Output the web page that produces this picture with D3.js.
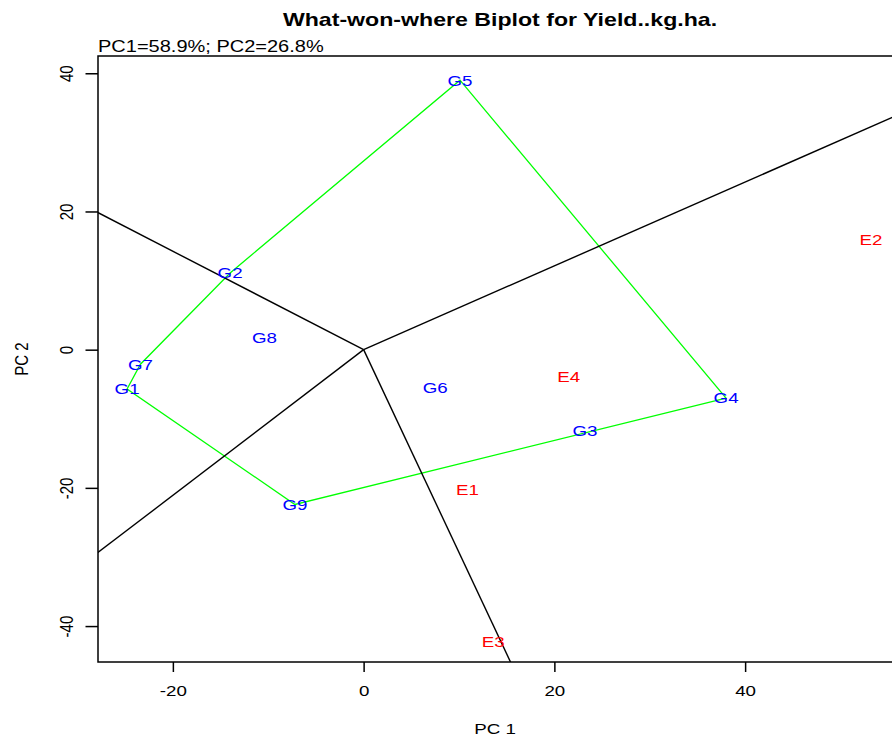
<!DOCTYPE html>
<html>
<head>
<meta charset="utf-8">
<script src="https://cdn.jsdelivr.net/npm/d3@7"></script>
<style>
  html, body { margin: 0; padding: 0; background: #fff; }
  svg { display: block; font-family: "Liberation Sans", Arial, sans-serif; }
</style>
</head>
<body>
<svg id="chart" width="892" height="737"></svg>
<script>
// ---------------- data ----------------
const genotypes = ["G1", "G2", "G3", "G4", "G5", "G6", "G7", "G8", "G9"];
const genoPC1   = [-24.8, -14.0, 23.2, 38.0, 10.1, 7.5, -23.4, -10.4, -7.2];
const genoPC2   = [-5.7, 11.1, -11.7, -7.0, 39.0, -5.5, -2.1, 1.7, -22.4];

const environments = ["E1", "E2", "E3", "E4"];
const envPC1       = [10.9, 53.2, 13.6, 21.5];
const envPC2       = [-20.2, 16.0, -42.3, -3.9];

const xTicks = [-20, 0, 20, 40];
const yTicks = [-40, -20, 0, 20, 40];

// hull sides for which a sector ray is drawn
const rayEdges = [["G5", "G4"], ["G4", "G9"], ["G9", "G1"], ["G7", "G2"]];

const titleText = "What-won-where Biplot for Yield..kg.ha.";
const subText = "PC1=58.9%; PC2=26.8%";
const xLabel = "PC 1";
const yLabel = "PC 2";

// ---------------- layout ----------------
const SX = 1.25; // horizontal glyph stretch of the reference
const pLeft = 98, pRight = 892, pTop = 56, pBottom = 662;
const svg = d3.select("#chart");

const x = d3.scaleLinear().domain([-27.85, 55.4]).range([pLeft, pRight]);
const y = d3.scaleLinear().domain([-45.2, 42.5]).range([pBottom, pTop]);

function sText(g, px, py, str, size, opts = {}) {
  const t = g.append("text")
    .attr("transform", `translate(${px},${py}) scale(${SX},1)` + (opts.rotate ? ` rotate(${opts.rotate})` : ""))
    .attr("text-anchor", opts.anchor || "middle")
    .attr("font-size", size)
    .attr("fill", opts.fill || "#000")
    .text(str);
  if (opts.bold) t.attr("font-weight", "bold");
  if (opts.dy) t.attr("dy", opts.dy);
  return t;
}

svg.append("defs").append("clipPath").attr("id", "plotclip")
  .append("rect").attr("x", pLeft).attr("y", pTop)
  .attr("width", pRight - pLeft + 10).attr("height", pBottom - pTop);

// titles
sText(svg, 500, 26, titleText, 18.5, { bold: true });
sText(svg, pLeft, 52, subText, 16, { anchor: "start" });
sText(svg, 495, 734, xLabel, 15);
sText(svg, 28, 359, yLabel, 15, { rotate: -90 });

// axes
const fmt = d => String(d);
const xAxis = svg.append("g").attr("transform", `translate(0,${pBottom})`)
  .call(d3.axisBottom(x).tickValues(xTicks).tickSize(10).tickFormat(fmt));
xAxis.select(".domain").remove();
xAxis.selectAll("line").attr("stroke", "#000").attr("stroke-width", 1.5);
xAxis.selectAll("text")
  .attr("y", null).attr("dy", null)
  .attr("transform", `translate(0,34) scale(${SX},1)`)
  .attr("font-size", 15).attr("font-family", "Liberation Sans, Arial, sans-serif")
  .attr("fill", "#000");

const yAxis = svg.append("g").attr("transform", `translate(${pLeft},0)`)
  .call(d3.axisLeft(y).tickValues(yTicks).tickSize(12.5).tickFormat(fmt));
yAxis.select(".domain").remove();
yAxis.selectAll("line").attr("stroke", "#000").attr("stroke-width", 1.5);
yAxis.selectAll("text")
  .attr("x", null).attr("dy", null)
  .attr("text-anchor", "middle")
  .attr("transform", `translate(-25,0) scale(${SX},1) rotate(-90)`)
  .attr("font-size", 15).attr("font-family", "Liberation Sans, Arial, sans-serif")
  .attr("fill", "#000");

// plot content
const plot = svg.append("g").attr("clip-path", "url(#plotclip)");

const gPts = genotypes.map((n, i) => ({ name: n, x: genoPC1[i], y: genoPC2[i] }));
const ePts = environments.map((n, i) => ({ name: n, x: envPC1[i], y: envPC2[i] }));
const byName = Object.fromEntries(gPts.map(p => [p.name, p]));

// convex hull (green polygon)
const hull = d3.polygonHull(gPts.map(p => [p.x, p.y]));
plot.append("path")
  .attr("d", d3.line().x(d => x(d[0])).y(d => y(d[1]))(hull) + "Z")
  .attr("fill", "none").attr("stroke", "#00ff00").attr("stroke-width", 1.3);

// sector rays, perpendicular from origin to hull sides
rayEdges.forEach(([a, b]) => {
  const A = byName[a], B = byName[b];
  let nx = -(B.y - A.y), ny = B.x - A.x;
  if (nx * A.x + ny * A.y < 0) { nx = -nx; ny = -ny; }
  const len = Math.hypot(nx, ny), k = 500 / len;
  plot.append("line")
    .attr("x1", x(0)).attr("y1", y(0))
    .attr("x2", x(nx * k)).attr("y2", y(ny * k))
    .attr("stroke", "#000").attr("stroke-width", 1.4);
});

// labels
gPts.forEach(p => sText(plot, x(p.x), y(p.y), p.name, 15, { fill: "#0000ff", dy: "0.36em" }));
ePts.forEach(p => sText(plot, x(p.x), y(p.y), p.name, 15, { fill: "#ff0000", dy: "0.36em" }));

// frame
svg.append("rect").attr("x", pLeft).attr("y", pTop)
  .attr("width", pRight - pLeft + 2).attr("height", pBottom - pTop)
  .attr("fill", "none").attr("stroke", "#000").attr("stroke-width", 1.5);
</script>
</body>
</html>
